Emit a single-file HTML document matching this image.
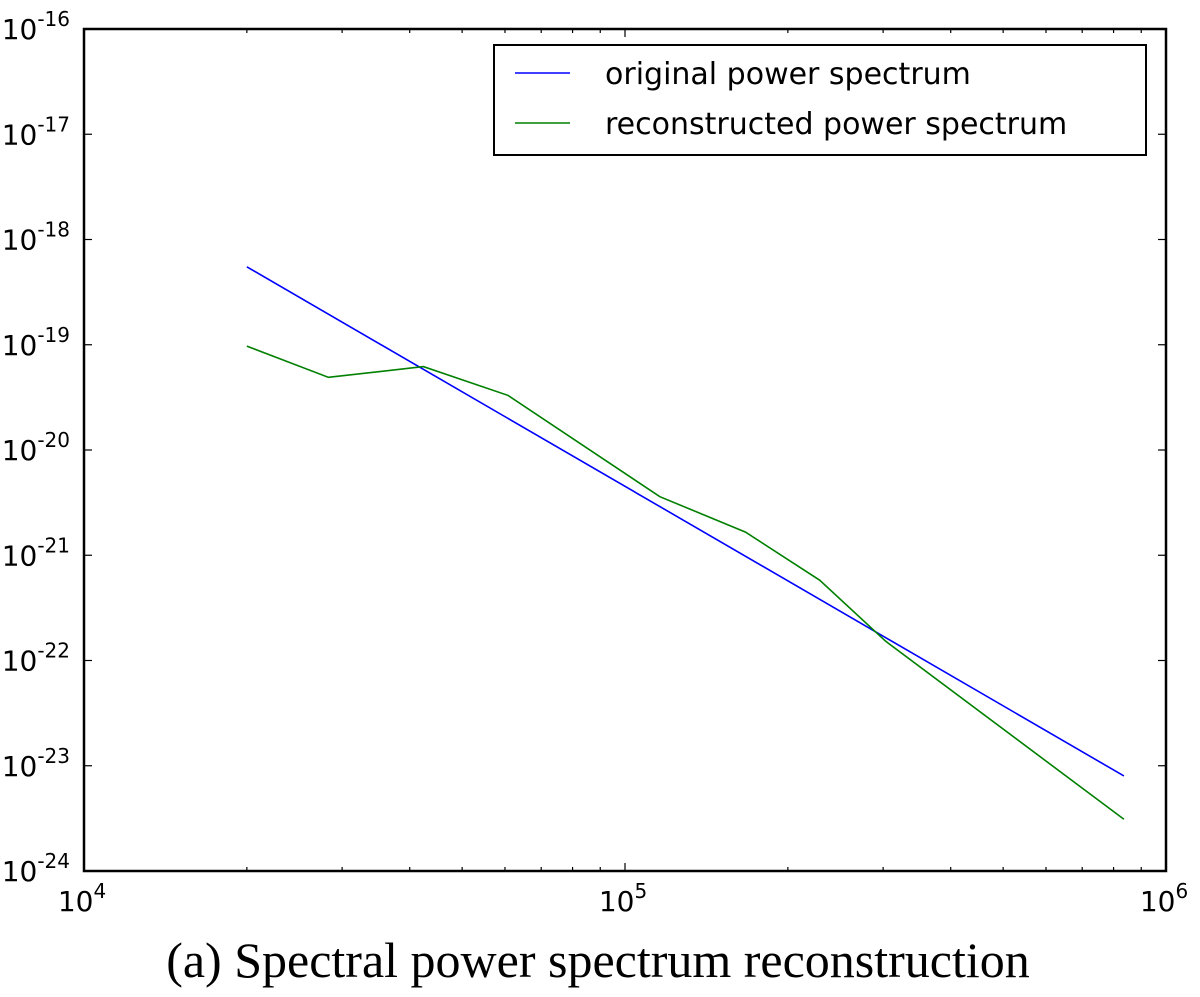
<!DOCTYPE html>
<html><head><meta charset="utf-8"><style>
body{margin:0;background:#fff;width:1200px;height:992px;overflow:hidden}
svg text{font-family:"DejaVu Sans","Liberation Sans",sans-serif}
</style></head><body>
<svg id="chart" width="1200" height="992" xmlns="http://www.w3.org/2000/svg">
<g id="ticks"></g>
<g id="lines"></g>
<rect x="84" y="29" width="1082" height="842" fill="none" stroke="#000" stroke-width="2.5"/>
<g>
<rect x="494" y="45" width="652" height="110" fill="#fff" stroke="#000" stroke-width="2"/>
<line x1="515" y1="73" x2="570" y2="73" stroke="#0000ff" stroke-width="1.5"/>
<text x="605" y="84" font-size="30">original power spectrum</text>
<line x1="515" y1="123" x2="570" y2="123" stroke="#008000" stroke-width="1.5"/>
<text x="605" y="134" font-size="30">reconstructed power spectrum</text>
</g>
<text x="598" y="977" text-anchor="middle" font-size="50" style="font-family:'Liberation Serif',serif">(a)  Spectral power spectrum reconstruction</text>
</svg>
<script>
const origX=[2.0e4,8.36e5];
const origY=[5.5e-19,8.0e-24];
const reconX=[2.0e4,2.83e4,4.24e4,6.08e4,1.16e5,1.67e5,2.29e5,3.03e5,8.36e5];
const reconY=[9.7e-20,4.9e-20,6.2e-20,3.3e-20,3.6e-21,1.66e-21,5.8e-22,1.53e-22,3.1e-24];
const xTicks=[4,5,6];
const yTicks=[-16,-17,-18,-19,-20,-21,-22,-23,-24];
const L=84,R=1166,T=29,B=871;
const xs=v=>L+(Math.log10(v)-4)/2*(R-L);
const ys=v=>T+(-16-Math.log10(v))/8*(B-T);
const NS="http://www.w3.org/2000/svg";
const tg=document.getElementById('ticks'),lg=document.getElementById('lines'),svg=document.getElementById('chart');
function ln(x1,y1,x2,y2){const e=document.createElementNS(NS,'line');e.setAttribute('x1',x1);e.setAttribute('y1',y1);e.setAttribute('x2',x2);e.setAttribute('y2',y2);e.setAttribute('stroke','#000');e.setAttribute('stroke-width','1.2');


tg.appendChild(e);}
function lbl(x,y,exp,anchor,name){const t=document.createElementNS(NS,'text');t.setAttribute('x',x);t.setAttribute('y',y);t.setAttribute('font-size','28');t.setAttribute('text-anchor',anchor);


t.innerHTML='10<tspan dy="-13" font-size="20">'+exp+'</tspan>';svg.appendChild(t);}
xTicks.forEach(e=>{const x=xs(Math.pow(10,e));ln(x,B,x,B-8);ln(x,T,x,T+8);lbl(x-2,B+40,e,'middle','x-tick-label');
if(e<6)for(let k=2;k<10;k++){const xm=xs(k*Math.pow(10,e));ln(xm,B,xm,B-4);ln(xm,T,xm,T+4);}});
yTicks.forEach(e=>{const y=ys(Math.pow(10,e));ln(L,y,L+8,y);ln(R,y,R-8,y);lbl(70,y+10,e,'end','y-tick-label');
if(e>-16)for(let k=2;k<10;k++){const ym=ys(k*Math.pow(10,e));ln(L,ym,L+4,ym);ln(R,ym,R-4,ym);}});
function series(X,Y,c,name){const p=document.createElementNS(NS,'polyline');p.setAttribute('points',X.map((v,i)=>xs(v)+','+ys(Y[i])).join(' '));p.setAttribute('fill','none');p.setAttribute('stroke',c);p.setAttribute('stroke-width','1.6');


lg.appendChild(p);}
series(origX,origY,'#0000ff','original-spectrum-line');
series(reconX,reconY,'#008000','reconstructed-spectrum-line');
</script>
</body></html>
